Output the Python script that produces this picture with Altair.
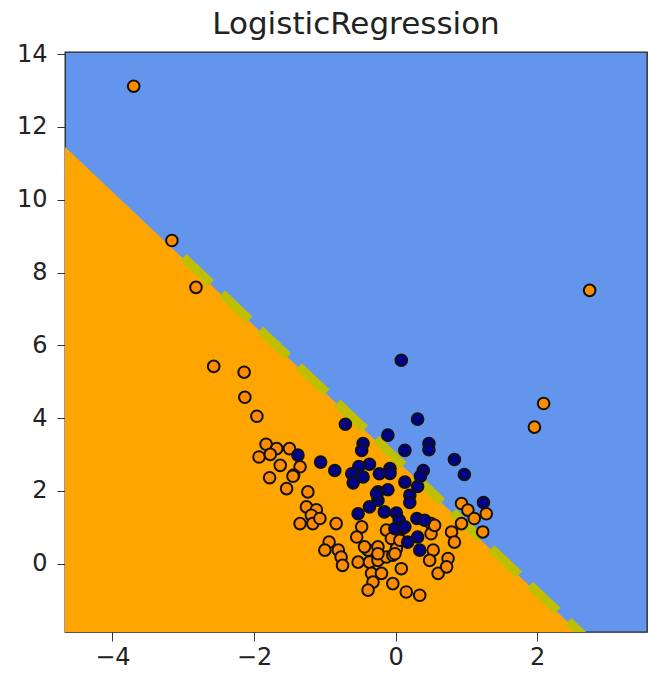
import altair as alt
import pandas as pd

# Class 0 (orange) points
orange_x = [-3.70, -3.16, -2.82, -2.57, -2.14, -2.13, -1.96, 2.74, 2.09, 1.96,
            -1.83, -1.68, -1.50, -1.93, -1.77, -1.63, -1.35, -1.44, -1.78, -1.45,
            -1.54, -1.24, -1.26, -1.12, -1.19, -1.35, -1.17, -1.07, -0.84, -0.94,
            -1.00, -0.81, -0.77, -0.75, -0.48, -0.55, -0.39, -0.53, -0.37, -0.44,
            -0.25, -0.25, -0.13, -0.06, 0.01, -0.13, -0.04, 0.08, -0.34, -0.20,
            -0.32, -0.39, -0.04, 0.15, 0.34, 0.50, 0.50, 0.53, 0.48, 0.60,
            0.74, 0.72, 0.79, 0.83, 0.93, 1.02, 1.11, 1.28, 1.23, -0.25,
            -0.01, 0.06, 0.55, 0.93]
orange_y = [13.12, 8.88, 7.59, 5.42, 5.26, 4.57, 4.05, 7.51, 4.40, 3.75,
            3.28, 3.16, 3.16, 2.93, 3.00, 2.70, 2.66, 2.43, 2.36, 2.40,
            2.06, 1.97, 1.56, 1.48, 1.33, 1.10, 1.10, 1.24, 1.10, 0.59,
            0.37, 0.37, 0.18, -0.05, 1.01, 0.73, 0.37, 0.04, 0.04, 0.46,
            0.46, 0.09, 0.92, 0.69, 0.41, 0.18, 0.23, -0.14, -0.27, -0.27,
            -0.51, -0.73, -0.55, -0.78, -0.87, 1.10, 0.82, 0.37, 0.09, -0.27,
            0.14, -0.09, 0.87, 0.59, 1.65, 1.47, 1.24, 1.37, 0.87, 0.27,
            0.27, 0.64, 1.05, 1.10]

# Class 1 (dark blue) points
blue_x = [0.08, 0.31, -0.11, 0.13, 0.47, 0.47, 0.83, 0.97, 1.24, -0.71,
          -0.46, -0.48, -0.86, -0.52, -0.37, -0.62, -0.46, -0.60, -0.23, -0.08,
          -0.08, -0.11, -0.25, -0.25, 0.13, 0.39, 0.35, 0.31, 0.20, 0.20,
          -0.53, -0.37, -0.16, 0.01, 0.05, 0.30, 0.41, 0.09, -1.38, -1.06,
          -0.01, 0.13, 0.17, 0.31, 0.34, -0.27]
blue_y = [5.59, 3.97, 3.53, 3.11, 3.30, 3.13, 2.86, 2.45, 1.68, 3.83,
          3.30, 3.11, 2.56, 2.67, 2.73, 2.47, 2.38, 2.22, 2.47, 2.61,
          2.48, 2.03, 1.97, 1.74, 2.24, 2.56, 2.40, 2.12, 1.88, 1.68,
          1.37, 1.56, 1.42, 1.39, 1.19, 1.24, 1.19, 0.96, 2.98, 2.79,
          0.96, 1.01, 0.59, 0.73, 0.37, 1.92]

# Decision region boundary (orange region lies below)
region_x = [-4.67, 2.58]
region_y = [11.45, -1.88]

# Dashed decision line endpoints
line_x = [-3.0, 3.0]
line_y = [8.42, -2.62]

x_domain = [-4.67, 3.55]
y_domain = [-1.88, 14.06]
x_ticks = [-4, -2, 0, 2]
y_ticks = [0, 2, 4, 6, 8, 10, 12, 14]

ORANGE_BG = "#FFA500"
BLUE_BG = "#6495ED"
FONT = "DejaVu Sans"

pts = pd.concat([
    pd.DataFrame({"x": orange_x, "y": orange_y, "cls": "0"}),
    pd.DataFrame({"x": blue_x, "y": blue_y, "cls": "1"}),
], ignore_index=True)
pts["order"] = range(len(pts))

region = pd.DataFrame({"x": region_x, "y": region_y, "base": [y_domain[0]] * 2})
line = pd.DataFrame({"x": line_x, "y": line_y})

xs = alt.Scale(domain=x_domain, nice=False, zero=False)
ys = alt.Scale(domain=y_domain, nice=False, zero=False)

xaxis = alt.Axis(values=x_ticks, title=None, grid=False, domain=False,
                 labelExpr="replace(format(datum.value, 'd'), '-', '\u2212')",
                 labelFontSize=24, labelFont=FONT, labelColor="#222222",
                 tickSize=9, tickColor="#333333", labelPadding=4)
yaxis = alt.Axis(values=y_ticks, title=None, grid=False, domain=False,
                 labelFontSize=24, labelFont=FONT, labelColor="#222222",
                 tickSize=8, tickColor="#333333", labelPadding=10)

area = alt.Chart(region).mark_area(color=ORANGE_BG, clip=True).encode(
    x=alt.X("x:Q", scale=xs, axis=xaxis),
    y=alt.Y("y:Q", scale=ys, axis=yaxis),
    y2="base:Q",
)

dash = alt.Chart(line).mark_line(color="#BFBF00", strokeWidth=9,
                                 strokeDash=[38, 15], clip=True).encode(
    x=alt.X("x:Q", scale=xs),
    y=alt.Y("y:Q", scale=ys),
)

points = alt.Chart(pts).mark_point(filled=True, shape="circle", size=135,
                                   stroke="#111111", strokeWidth=2,
                                   opacity=1, clip=True).encode(
    x=alt.X("x:Q", scale=xs),
    y=alt.Y("y:Q", scale=ys),
    fill=alt.Fill("cls:N", scale=alt.Scale(domain=["0", "1"],
                                           range=["#FF8C00", "#00008B"]),
                  legend=None),
    order="order:Q",
)

chart = alt.layer(area, dash, points).properties(
    width=582,
    height=580,
    title=alt.TitleParams("LogisticRegression", fontSize=31, font=FONT,
                          fontWeight="normal", color="#222222",
                          anchor="middle", frame="group",
                          baseline="bottom", offset=8, dy=38),
    autosize=alt.AutoSizeParams(type="none"),
    padding={"left": 65, "top": 52, "right": 1, "bottom": 42},
).configure_view(fill=BLUE_BG, stroke="#222222", strokeWidth=1.3)

chart.save("out.html", embed_options={"renderer": "svg", "actions": False})
